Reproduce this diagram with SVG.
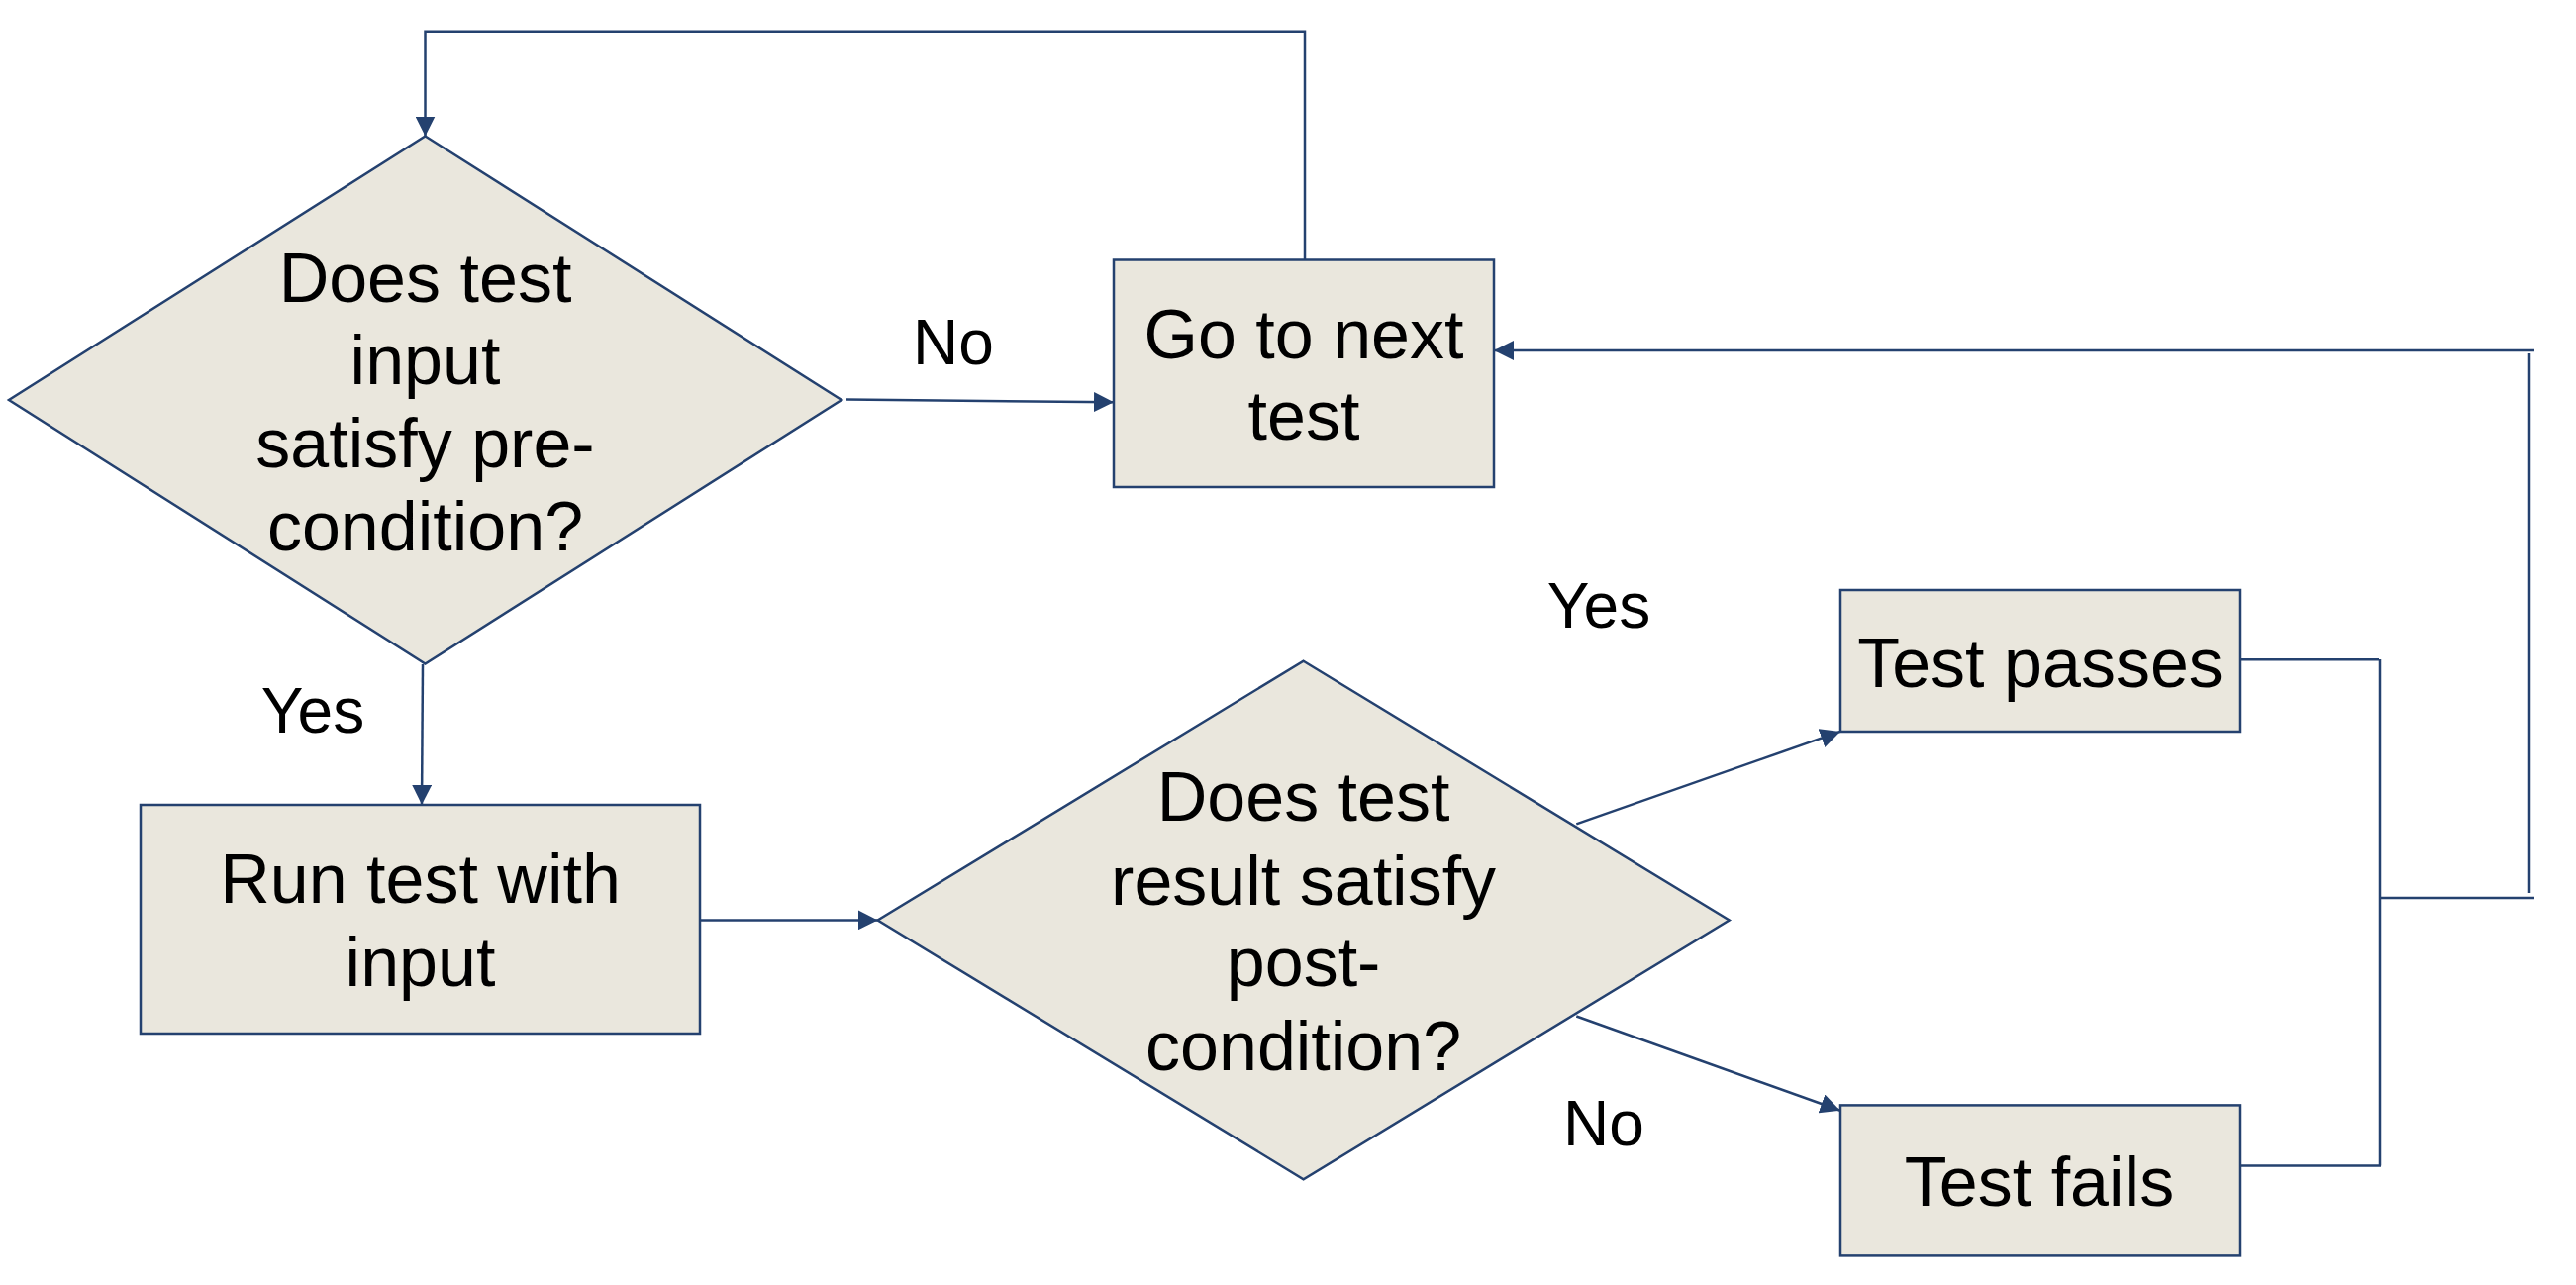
<svg xmlns="http://www.w3.org/2000/svg" width="2602" height="1298" viewBox="0 0 2602 1298">
<style>
.shape{fill:#EAE7DD;stroke:#24416F;stroke-width:2.5}
.conn{fill:none;stroke:#24416F;stroke-width:2.5}
text{font-family:"Liberation Sans",Arial,sans-serif;font-size:70px;fill:#000;text-anchor:middle}
.lbl{font-size:64px}
</style>
<defs>
<marker id="arr" markerUnits="userSpaceOnUse" markerWidth="20" markerHeight="20" refX="20" refY="10" orient="auto">
<path d="M0,0 L20,10 L0,20 Z" fill="#24416F"/>
</marker>
</defs>
<rect width="2602" height="1298" fill="#FFFFFF"/>
<g id="connectors">
<path class="conn" d="M1318,262.5 V31.7 H429.5 V137.5" marker-end="url(#arr)"/>
<path class="conn" d="M855,403.6 L1125,406.3" marker-end="url(#arr)"/>
<path class="conn" d="M427,671 L426,812.8" marker-end="url(#arr)"/>
<path class="conn" d="M707,929.4 L886.6,929.4" marker-end="url(#arr)"/>
<path class="conn" d="M1592.3,832.4 L1858.8,738.9" marker-end="url(#arr)"/>
<path class="conn" d="M1592.3,1026.5 L1858.8,1121.7" marker-end="url(#arr)"/>
<path class="conn" d="M2263,666.3 H2403 M2404,666 V1177.4 M2263,1177.4 H2405"/>
<path class="conn" d="M2405,907 H2560 M2555,902 V357"/>
<path class="conn" d="M2560,354 H1509" marker-end="url(#arr)"/>
</g>
<g id="decision1">
<polygon class="shape" points="429.5,137.5 850,404 429.5,670.5 9,404"/>
<text x="429.5" y="305">Does test</text>
<text x="429.5" y="388">input</text>
<text x="429.5" y="472">satisfy pre-</text>
<text x="429.5" y="556">condition?</text>
</g>
<g id="next-test">
<rect class="shape" x="1125" y="262.5" width="384" height="229.5"/>
<text x="1317" y="361.6">Go to next</text>
<text x="1317" y="444">test</text>
</g>
<g id="run-test">
<rect class="shape" x="142" y="813" width="565" height="231"/>
<text x="424.5" y="911.6">Run test with</text>
<text x="424.5" y="996">input</text>
</g>
<g id="decision2">
<polygon class="shape" points="1316.6,667.7 1746.7,929.5 1316.6,1191.2 886.6,929.5"/>
<text x="1316.6" y="829">Does test</text>
<text x="1316.6" y="913.8">result satisfy</text>
<text x="1316.6" y="996">post-</text>
<text x="1316.6" y="1080.8">condition?</text>
</g>
<g id="test-passes">
<rect class="shape" x="1859" y="596" width="404" height="143"/>
<text x="2061" y="693.5">Test passes</text>
</g>
<g id="test-fails">
<rect class="shape" x="1859" y="1116.4" width="404" height="152"/>
<text x="2060" y="1218">Test fails</text>
</g>
<g id="labels">
<text class="lbl" x="963" y="368">No</text>
<text class="lbl" x="1615" y="634">Yes</text>
<text class="lbl" x="316" y="740">Yes</text>
<text class="lbl" x="1620" y="1157">No</text>
</g>
</svg>
